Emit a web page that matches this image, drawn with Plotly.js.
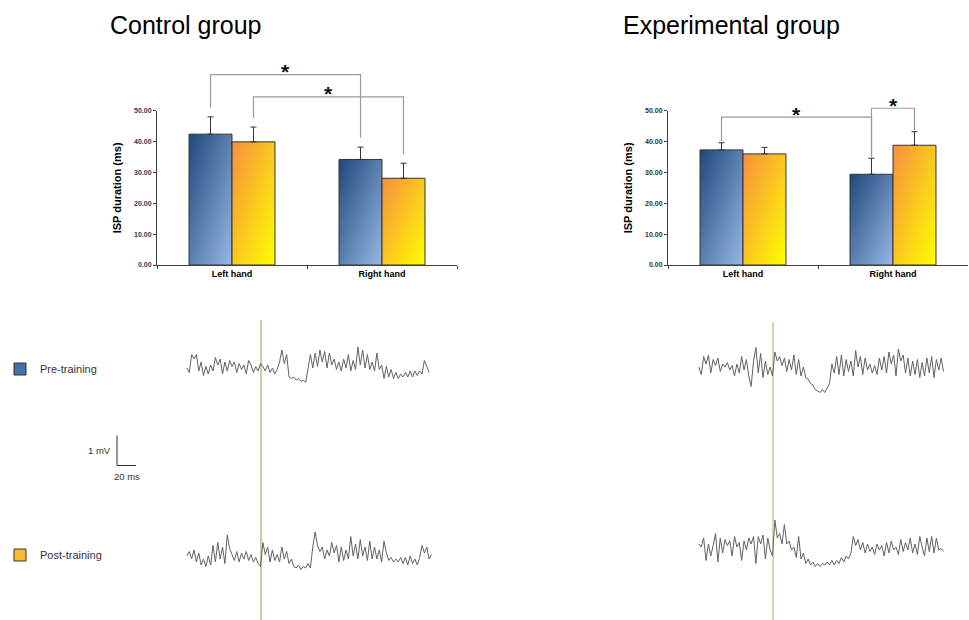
<!DOCTYPE html>
<html>
<head>
<meta charset="utf-8">
<script src="https://cdn.plot.ly/plotly-3.0.1.min.js"></script>
<style>
html,body{margin:0;padding:0;background:#fff;}
#chart{width:969px;height:620px;}
</style>
</head>
<body>
<div id="chart"></div>
<script>
// ---------------- DATA ----------------
const categories = ['Left hand', 'Right hand'];
const seriesNames = ['Pre-training', 'Post-training'];
const groupTitles = ['Control group', 'Experimental group'];
const yTitle = 'ISP duration (ms)';
const yTickVals = [0, 10, 20, 30, 40, 50];

const controlPre = [42.4, 34.2];
const controlPreErr = [5.6, 4.0];
const controlPost = [39.9, 28.1];
const controlPostErr = [4.8, 4.9];

const expPre = [37.3, 29.4];
const expPreErr = [2.3, 5.2];
const expPost = [36.0, 38.8];
const expPostErr = [2.1, 4.4];

// significance brackets: [category, series] pairs and bracket level (ms)
const controlSig = [
  {from: [0, 0], to: [1, 0], level: 61.7},
  {from: [0, 1], to: [1, 1], level: 54.5}
];
const expSig = [
  {from: [0, 0], to: [1, 0], level: 47.9},
  {from: [1, 0], to: [1, 1], level: 50.8}
];

// EMG sweeps (mV), sampled every traceStep ms from traceStart ms (stimulus at 0 ms)
const traceStart = -78;
const traceStep = 2.5;
const ctrlPreEmg = [0.0,-0.15,0.45,0.3,0.45,-0.1,0.2,-0.25,0.05,-0.2,
  0.1,-0.1,0.35,0.1,0.3,-0.2,0.2,-0.1,0.25,0.05,
  0.2,-0.15,0.15,-0.05,0.1,-0.2,0.25,0.1,-0.15,0.05,
  -0.1,0.15,0.05,-0.1,0.1,-0.15,0.0,-0.2,-0.05,0.2,
  0.6,0.15,0.45,-0.3,-0.35,-0.3,-0.4,-0.35,-0.45,-0.4,
  -0.48,0.05,0.45,0.0,0.5,0.05,0.6,0.2,0.55,0.0,
  0.5,0.1,0.3,-0.05,0.2,-0.1,0.3,0.0,0.45,-0.1,
  0.25,-0.05,0.7,0.1,0.6,0.0,0.45,-0.05,0.2,-0.1,
  0.5,-0.05,0.1,-0.35,0.05,-0.3,-0.05,-0.35,-0.15,-0.35,
  -0.2,-0.3,-0.15,-0.3,-0.1,-0.3,-0.1,-0.25,-0.1,-0.2,
  0.25,0.05,-0.15];
const ctrlPostEmg = [0.0,0.15,-0.1,0.2,-0.2,0.1,-0.3,-0.1,-0.35,0.0,
  -0.3,0.35,-0.2,0.45,-0.1,0.3,-0.25,0.7,0.25,0.05,
  -0.15,0.15,-0.2,0.1,-0.1,0.15,-0.15,0.05,-0.2,-0.05,
  -0.25,-0.35,0.45,0.05,0.3,-0.2,0.2,-0.15,0.05,-0.2,
  0.3,-0.1,0.15,-0.25,-0.1,-0.35,-0.4,-0.3,-0.45,-0.35,
  -0.4,-0.25,-0.4,0.3,0.8,0.35,0.15,0.3,-0.1,0.2,
  0.0,0.45,0.1,0.35,-0.2,0.3,-0.15,0.2,-0.1,0.65,
  0.0,0.4,-0.1,0.55,0.0,0.3,-0.15,0.5,-0.1,0.3,
  -0.1,0.2,-0.2,0.5,0.1,-0.15,-0.05,-0.2,-0.1,-0.2,
  -0.05,-0.25,-0.05,-0.3,0.0,-0.25,-0.1,-0.3,-0.05,0.35,
  0.1,0.3,-0.1,0.05];
const expPreEmg = [0.0,-0.25,0.35,0.1,0.4,-0.2,0.25,0.05,0.3,-0.15,
  0.1,0.0,0.15,-0.1,0.05,-0.3,0.1,-0.2,0.35,-0.1,
  0.25,-0.3,-0.65,0.2,0.65,-0.2,0.45,-0.35,0.2,-0.25,
  0.0,-0.3,0.5,0.2,0.35,0.05,0.3,-0.15,0.25,-0.1,
  0.4,-0.25,0.25,-0.3,0.0,-0.35,-0.4,-0.55,-0.6,-0.75,
  -0.8,-0.85,-0.75,-0.85,-0.7,-0.55,0.1,-0.2,0.35,-0.25,
  0.4,-0.3,0.25,-0.15,0.2,-0.3,0.55,0.0,0.35,-0.25,
  0.3,-0.1,0.1,-0.2,0.05,-0.25,0.3,-0.1,0.35,-0.2,
  0.5,0.1,0.4,-0.3,0.6,0.2,0.4,-0.2,0.3,-0.3,
  0.2,-0.25,0.25,-0.35,0.15,-0.3,0.3,-0.2,0.35,-0.35,
  0.25,-0.1,0.3,-0.15];
const expPostEmg = [0.1,0.0,0.3,-0.45,0.1,-0.3,0.05,0.45,-0.5,0.3,
  -0.2,0.25,0.05,0.2,-0.3,0.35,0.0,0.15,-0.45,0.2,
  -0.1,0.3,0.1,0.35,-0.55,0.35,0.1,0.4,-0.4,0.3,
  -0.1,-0.3,0.9,0.3,0.45,0.1,0.75,0.1,0.2,-0.1,
  0.0,-0.35,0.35,-0.4,-0.2,-0.55,-0.4,-0.6,-0.5,-0.65,
  -0.55,-0.65,-0.55,-0.6,-0.5,-0.6,-0.45,-0.6,-0.45,-0.55,
  -0.35,-0.5,-0.3,-0.4,-0.2,0.35,0.05,0.25,-0.1,0.15,
  -0.2,0.1,-0.15,0.0,-0.25,0.1,-0.1,0.05,-0.3,0.15,
  -0.2,0.2,-0.1,0.0,-0.25,0.25,-0.15,0.15,-0.1,0.3,
  -0.2,0.1,-0.25,0.35,0.0,-0.3,0.3,-0.15,0.35,-0.2,
  0.3,-0.1,-0.05,-0.15];

// scale bar values
const scaleMv = 1;
const scaleMs = 20;
const scaleLabels = ['1 mV', '20 ms'];

// ---------------- LAYOUT HELPERS ----------------
const W = 969, H = 620;
const PX = x => x / W;
const PY = y => 1 - y / H;
const FONT = 'Arial, "Liberation Sans", sans-serif';

const barTopPx = 110.7, barBottomPx = 265;
const ctrlBarPx = [157, 457], expBarPx = [668, 968];
const yMax = 50;
const bargap = 0.427;
const barW = (1 - bargap) / 2;

const msPx = 0.95, mvPx = 30;
const ctrlTracePx = [180, 440], ctrlStimPx = 261;
const expTracePx = [690, 950], expStimPx = 773;
const timeRange = (dom, stim) => [(dom[0] - stim) / msPx, (dom[1] - stim) / msPx];
const mvDomain = c => [PY(c + mvPx), PY(c - mvPx)];

const barDomY = [PY(barBottomPx), PY(barTopPx)];
const xPaper = (domPx, v) => PX(domPx[0]) + (v + 0.5) / 2 * (PX(domPx[1]) - PX(domPx[0]));
const yPaper = v => barDomY[0] + v / yMax * (barDomY[1] - barDomY[0]);
const barCentre = (cat, s) => cat + (s === 0 ? -barW / 2 : barW / 2);

const times = arr => arr.map((_, i) => traceStart + i * traceStep);

const BLUE = '#4470a8', GOLD = '#fbb934';
const EDGE = '#333333';

function barTrace(vals, errs, s, xa, ya, showleg) {
  return {
    type: 'bar', x: categories, y: vals, name: seriesNames[s],
    xaxis: xa, yaxis: ya,
    legend: s === 0 ? 'legend' : 'legend2',
    showlegend: showleg,
    marker: {color: s === 0 ? BLUE : GOLD, line: {color: EDGE, width: 1}},
    error_y: {type: 'data', symmetric: false, array: errs, arrayminus: errs.map(() => 0),
      color: EDGE, thickness: 1, width: 3},
    hoverinfo: 'skip'
  };
}

function emgTrace(vals, xa, ya, name) {
  return {
    type: 'scatter', mode: 'lines', x: times(vals), y: vals, name: name,
    xaxis: xa, yaxis: ya, showlegend: false, hoverinfo: 'skip',
    line: {color: '#626262', width: 1}
  };
}

const data = [
  barTrace(controlPre, controlPreErr, 0, 'x', 'y', true),
  barTrace(controlPost, controlPostErr, 1, 'x', 'y', true),
  barTrace(expPre, expPreErr, 0, 'x2', 'y2', false),
  barTrace(expPost, expPostErr, 1, 'x2', 'y2', false),
  emgTrace(ctrlPreEmg, 'x3', 'y3', 'Control pre'),
  emgTrace(ctrlPostEmg, 'x3', 'y4', 'Control post'),
  emgTrace(expPreEmg, 'x4', 'y5', 'Experimental pre'),
  emgTrace(expPostEmg, 'x4', 'y6', 'Experimental post')
];

function barX(domPx) {
  return {
    domain: [PX(domPx[0]), PX(domPx[1])], range: [-0.5, 1.5], type: 'category',
    showline: true, linecolor: '#404040', linewidth: 1,
    ticks: 'outside', tickson: 'boundaries', ticklen: 3, tickcolor: '#404040',
    showgrid: false, zeroline: false, fixedrange: true,
    tickfont: {family: FONT, size: 9, color: '#000', weight: 'bold'}
  };
}
function barY(anchor, tickColor) {
  return {
    domain: barDomY, range: [0, yMax], anchor: anchor,
    tickvals: yTickVals, tickformat: '.2f',
    showline: true, linecolor: '#404040', linewidth: 1,
    ticks: 'outside', ticklen: 3, tickcolor: '#404040',
    showgrid: false, zeroline: false, fixedrange: true,
    tickfont: {family: FONT, size: 7, color: tickColor, weight: 'bold'},
    title: {text: yTitle, font: {family: FONT, size: 11, color: '#000', weight: 'bold'}, standoff: 10}
  };
}
const hidden = {visible: false, fixedrange: true, showgrid: false, zeroline: false};

const shapes = [];
const annotations = [];

// group titles
[[groupTitles[0], 108], [groupTitles[1], 621]].forEach(([t, x]) => {
  annotations.push({text: t, xref: 'paper', yref: 'paper', x: PX(x), y: PY(25),
    xanchor: 'left', yanchor: 'middle', showarrow: false,
    font: {family: FONT, size: 25, color: '#000'}});
});

// significance brackets
function addBrackets(sig, domPx, pre, preErr, post, postErr, gap) {
  const tops = [[pre[0] + preErr[0], post[0] + postErr[0]], [pre[1] + preErr[1], post[1] + postErr[1]]];
  sig.forEach(b => {
    const x1 = xPaper(domPx, barCentre(b.from[0], b.from[1]));
    const x2 = xPaper(domPx, barCentre(b.to[0], b.to[1]));
    const yb1 = yPaper(tops[b.from[0]][b.from[1]] + gap);
    const yb2 = yPaper(tops[b.to[0]][b.to[1]] + gap);
    const yl = yPaper(b.level);
    shapes.push({type: 'path', xref: 'paper', yref: 'paper',
      path: `M${x1},${yb1} L${x1},${yl} L${x2},${yl} L${x2},${yb2}`,
      line: {color: '#9a9a9a', width: 1.2}});
    annotations.push({text: '*', xref: 'paper', yref: 'paper', x: (x1 + x2) / 2, y: yl,
      xanchor: 'center', yanchor: 'middle', yshift: 3, showarrow: false,
      font: {family: FONT, size: 21, color: '#111', weight: 'bold'}});
  });
}
addBrackets(controlSig, ctrlBarPx, controlPre, controlPreErr, controlPost, controlPostErr, 3);
addBrackets(expSig, expBarPx, expPre, expPreErr, expPost, expPostErr, 0.5);

// stimulus lines (t = 0 on each time axis)
function stimX(domPx, stimPx) {
  const r = timeRange(domPx, stimPx);
  return PX(domPx[0]) + (0 - r[0]) / (r[1] - r[0]) * (PX(domPx[1]) - PX(domPx[0]));
}
shapes.push({type: 'line', xref: 'paper', yref: 'paper', x0: stimX(ctrlTracePx, ctrlStimPx), x1: stimX(ctrlTracePx, ctrlStimPx),
  y0: 0, y1: PY(320), line: {color: '#b3b07a', width: 1.3}, layer: 'below'});
shapes.push({type: 'line', xref: 'paper', yref: 'paper', x0: stimX(expTracePx, expStimPx), x1: stimX(expTracePx, expStimPx),
  y0: 0, y1: PY(322), line: {color: '#d9d7a9', width: 2}, layer: 'below'});

// scale bar
const sbX = 117, sbY = 465.5;
const sbV = scaleMv * mvPx, sbH = scaleMs * msPx;
shapes.push({type: 'path', xref: 'paper', yref: 'paper',
  path: `M${PX(sbX)},${PY(sbY - sbV)} L${PX(sbX)},${PY(sbY)} L${PX(sbX + sbH)},${PY(sbY)}`,
  line: {color: '#333', width: 1}});
annotations.push({text: scaleLabels[0], xref: 'paper', yref: 'paper', x: PX(sbX - 4), y: PY(sbY - sbV / 2),
  xanchor: 'right', yanchor: 'middle', showarrow: false, font: {family: FONT, size: 9.5, color: '#333'}});
annotations.push({text: scaleLabels[1], xref: 'paper', yref: 'paper', x: PX(sbX + sbH / 2), y: PY(sbY + 11),
  xanchor: 'center', yanchor: 'middle', showarrow: false, font: {family: FONT, size: 9.5, color: '#333'}});

const legendBase = {x: 0, xanchor: 'left', yanchor: 'middle', bgcolor: 'rgba(0,0,0,0)',
  font: {family: FONT, size: 11, color: '#333'}, itemclick: false, itemdoubleclick: false};

const layout = {
  width: W, height: H,
  margin: {l: 0, r: 0, t: 0, b: 0},
  paper_bgcolor: '#fff', plot_bgcolor: 'rgba(0,0,0,0)',
  barmode: 'group', bargap: bargap, bargroupgap: 0,
  font: {family: FONT},
  xaxis: barX(ctrlBarPx),
  yaxis: barY('x', '#1f3864'),
  xaxis2: barX(expBarPx),
  yaxis2: barY('x2', '#3a3226'),
  xaxis3: Object.assign({}, hidden, {domain: [PX(ctrlTracePx[0]), PX(ctrlTracePx[1])], range: timeRange(ctrlTracePx, ctrlStimPx), anchor: 'y3'}),
  yaxis3: Object.assign({}, hidden, {domain: mvDomain(368), range: [-1, 1], anchor: 'x3'}),
  yaxis4: Object.assign({}, hidden, {domain: mvDomain(556), range: [-1, 1], anchor: 'x3'}),
  xaxis4: Object.assign({}, hidden, {domain: [PX(expTracePx[0]), PX(expTracePx[1])], range: timeRange(expTracePx, expStimPx), anchor: 'y5'}),
  yaxis5: Object.assign({}, hidden, {domain: mvDomain(367), range: [-1, 1], anchor: 'x4'}),
  yaxis6: Object.assign({}, hidden, {domain: mvDomain(547), range: [-1, 1], anchor: 'x4'}),
  legend: Object.assign({}, legendBase, {y: PY(369)}),
  legend2: Object.assign({}, legendBase, {y: PY(555)}),
  shapes: shapes,
  annotations: annotations
};

function applyGradients(gd) {
  const NS = 'http://www.w3.org/2000/svg';
  const svg = gd.querySelector('svg.main-svg');
  if (!svg) return;
  let defs = svg.querySelector('defs');
  if (!defs) { defs = document.createElementNS(NS, 'defs'); svg.insertBefore(defs, svg.firstChild); }
  const mk = (id, c0, c1) => {
    const g = document.createElementNS(NS, 'linearGradient');
    g.setAttribute('id', id);
    g.setAttribute('x1', '0'); g.setAttribute('y1', '0');
    g.setAttribute('x2', '1'); g.setAttribute('y2', '1');
    [[0, c0], [1, c1]].forEach(([o, c]) => {
      const s = document.createElementNS(NS, 'stop');
      s.setAttribute('offset', o); s.setAttribute('stop-color', c);
      g.appendChild(s);
    });
    defs.appendChild(g);
  };
  mk('gradPre', '#1f487c', '#97b8e4');
  mk('gradPost', '#f68f3e', '#ffff00');
  gd.querySelectorAll('.barlayer .trace').forEach(g => {
    const cd = g.__data__;
    const tr = cd && cd[0] && cd[0].trace;
    if (!tr) return;
    const id = tr.name === seriesNames[0] ? 'gradPre' : 'gradPost';
    g.querySelectorAll('.point path').forEach(p => { p.style.fill = `url(#${id})`; });
  });
}

Plotly.newPlot('chart', data, layout, {displayModeBar: false, staticPlot: true})
  .then(applyGradients);
</script>
</body>
</html>
